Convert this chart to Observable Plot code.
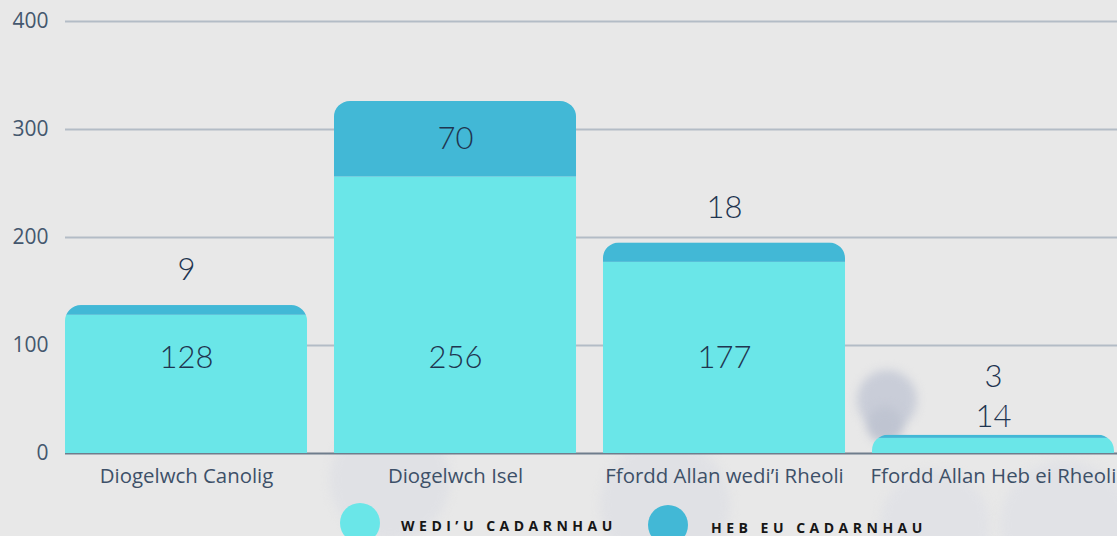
<!DOCTYPE html>
<html><head><meta charset="utf-8">
<script src="https://cdn.jsdelivr.net/npm/d3@7"></script>
<script src="https://cdn.jsdelivr.net/npm/@observablehq/plot@0.6"></script>
<style>
html,body{margin:0;padding:0;background:#e8e8e8;width:1117px;height:536px;overflow:hidden;}
#wrap{position:relative;width:1117px;height:536px;overflow:hidden;}
.blob{position:absolute;border-radius:50%;filter:blur(5px);}
#chart{position:absolute;left:0;top:0;}
#legend{position:absolute;left:0;top:495px;width:1117px;height:41px;}
.sw{position:absolute;width:40px;height:40px;border-radius:50%;}
.lt{position:absolute;font-family:"Open Sans",sans-serif;font-weight:700;font-size:14px;letter-spacing:4.5px;color:#161616;white-space:nowrap;line-height:14px;}
</style></head>
<body>
<div id="wrap">
  <div class="blob" style="left:857px;top:370px;width:60px;height:60px;background:#c9cdd8;"></div>
  <div class="blob" style="left:867px;top:407px;width:36px;height:36px;background:#bfc4d1;"></div>
  <div class="blob" style="left:330px;top:420px;width:120px;height:120px;background:#e0e1e5;"></div>
  <div class="blob" style="left:600px;top:440px;width:130px;height:130px;background:#e0e1e5;"></div>
  <div class="blob" style="left:880px;top:470px;width:110px;height:110px;background:#e1e2e6;"></div>
  <div class="blob" style="left:1000px;top:460px;width:130px;height:130px;background:#e1e2e6;"></div>
  <div id="chart"></div>
  <div id="legend"></div>
</div>
<script>
const categories = ["Diogelwch Canolig", "Diogelwch Isel", "Ffordd Allan wedi’i Rheoli", "Ffordd Allan Heb ei Rheoli"];
const confirmed = [128, 256, 177, 14];
const unconfirmed = [9, 70, 18, 3];
const seriesNames = ["WEDI’U CADARNHAU", "HEB EU CADARNHAU"];
const seriesColors = ["#6ae6e8", "#42b8d6"];
const yTicks = [0, 100, 200, 300, 400];

const rows = [];
categories.forEach((c, i) => {
  rows.push({category: c, series: seriesNames[0], value: confirmed[i]});
  rows.push({category: c, series: seriesNames[1], value: unconfirmed[i]});
});

// label placement rules
const labels = [];
categories.forEach((c, i) => {
  const a = confirmed[i], b = unconfirmed[i], t = a + b;
  if (a >= 50) labels.push({category: c, y: 88, text: String(a), k: 0});
  else labels.push({category: c, y: t, text: String(a), k: 1});
  if (b >= 40) labels.push({category: c, y: a + b / 2, text: String(b), k: 0});
  else if (a >= 50) labels.push({category: c, y: t, text: String(b), k: 2});
  else labels.push({category: c, y: t, text: String(b), k: 3});
});
const dyFor = [0, -18, -35, -58];
const labelFont = {fontSize: 31, fontWeight: 300, fontFamily: "Lato", fill: "#1f3550", lineAnchor: "middle", textAnchor: "middle"};

const plot = Plot.plot({
  width: 1117,
  height: 495,
  marginTop: 21,
  marginBottom: 42,
  marginLeft: 65,
  marginRight: 3,
  style: {background: "transparent", fontFamily: "Open Sans", fontSize: "20px", color: "#3d5068"},
  x: {domain: categories, paddingInner: 0.1, paddingOuter: 0, round: false, label: null},
  y: {domain: [0, 400], label: null},
  color: {domain: seriesNames, range: seriesColors},
  marks: [
    Plot.gridY(yTicks.slice(1), {stroke: "#b3bcc6", strokeOpacity: 1, strokeWidth: 2, insetRight: -3}),
    Plot.ruleY([0], {stroke: "#6f7d8c", strokeWidth: 2, insetRight: -3}),
    Plot.barY(rows, {x: "category", y: "value", fill: "series"}),
    Plot.axisY({ticks: yTicks, tickSize: 0, tickPadding: 17, fontSize: 21, fill: "#44576e", label: null}),
    Plot.axisX({tickSize: 0, tickPadding: 15, fontSize: 20.4, fill: "#3d5068", label: null}),
    ...dyFor.map((dy, k) => Plot.text(labels.filter(d => d.k === k), {x: "category", y: "y", text: "text", dy, ...labelFont}))
  ]
});
document.getElementById("chart").appendChild(plot);

// rounded-top clip for each stacked column, built from the plot's own scales
const svg = plot.tagName.toLowerCase() === "svg" ? plot : plot.querySelector("svg");
const sx = plot.scale("x"), sy = plot.scale("y");
const r = 16;
let d = "";
categories.forEach((c, i) => {
  const x0 = sx.apply(c), w = sx.bandwidth;
  const yTop = sy.apply(confirmed[i] + unconfirmed[i]);
  const yBot = sy.apply(0) + 5;
  const rr = Math.min(r, (yBot - yTop));
  d += `M${x0},${yBot}L${x0},${yTop + rr}A${r},${rr} 0 0 1 ${x0 + r},${yTop}L${x0 + w - r},${yTop}A${r},${rr} 0 0 1 ${x0 + w},${yTop + rr}L${x0 + w},${yBot}Z`;
});
const ns = "http://www.w3.org/2000/svg";
const defs = document.createElementNS(ns, "defs");
const cp = document.createElementNS(ns, "clipPath");
cp.setAttribute("id", "barclip");
const p = document.createElementNS(ns, "path");
p.setAttribute("d", d);
cp.appendChild(p); defs.appendChild(cp); svg.insertBefore(defs, svg.firstChild);
svg.querySelectorAll('g[aria-label="bar"]').forEach(g => g.setAttribute("clip-path", "url(#barclip)"));

// legend
const legend = document.getElementById("legend");
const legendPos = [{sw: 340, tx: 401, swTop: 8, txTop: 24}, {sw: 648, tx: 711, swTop: 10, txTop: 26}];
seriesNames.forEach((s, i) => {
  const sw = document.createElement("div");
  sw.className = "sw";
  sw.style.left = legendPos[i].sw + "px"; sw.style.top = legendPos[i].swTop + "px";
  sw.style.background = seriesColors[i];
  legend.appendChild(sw);
  const t = document.createElement("div");
  t.className = "lt";
  t.style.left = legendPos[i].tx + "px"; t.style.top = legendPos[i].txTop + "px";
  t.textContent = s;
  legend.appendChild(t);
});
</script>
</body></html>
